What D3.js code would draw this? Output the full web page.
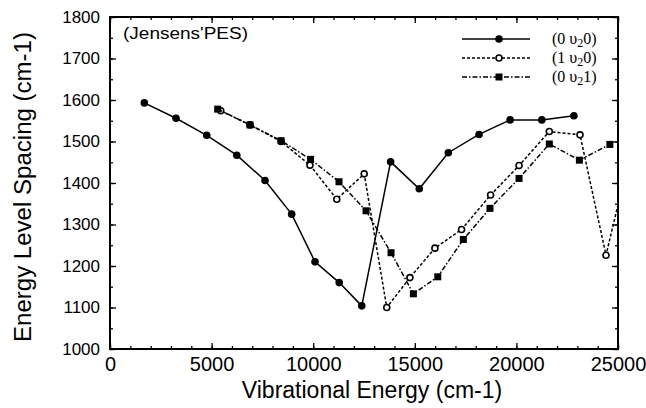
<!DOCTYPE html>
<html lang="en">
<head>
    <meta charset="UTF-8">
    <title>Energy level spacing</title>
    <script src="https://d3js.org/d3.v7.min.js"></script>
    <style>
        body { margin: 0; background: #fff; }
    </style>
</head>
<body>
<script>
    // (0 v2 0) - filled circles, solid line
    var energy0 = [1690, 3250, 4760, 6240, 7630, 8940, 10090, 11280, 12390, 13810, 15220, 16650, 18160, 19690, 21250, 22830];
    var spacing0 = [1593, 1556, 1515, 1467, 1406, 1325, 1210, 1160, 1104, 1451, 1386, 1473, 1517, 1552, 1552, 1562];

    // (1 v2 0) - open circles, dotted line (last point runs off the right edge)
    var energy1 = [5450, 6890, 8420, 9840, 11160, 12510, 13620, 14760, 15990, 17300, 18730, 20130, 21620, 23130, 24410, 25400];
    var spacing1 = [1574, 1540, 1500, 1443, 1361, 1422, 1100, 1172, 1243, 1288, 1371, 1442, 1524, 1516, 1226, 1430];

    // (0 v2 1) - filled squares, dash-dot line
    var energy2 = [5300, 6890, 8420, 9870, 11270, 12600, 13830, 14930, 16130, 17390, 18700, 20130, 21620, 23100, 24600];
    var spacing2 = [1578, 1540, 1502, 1457, 1403, 1333, 1232, 1133, 1174, 1264, 1339, 1411, 1494, 1455, 1493];

    var xTicks = [0, 5000, 10000, 15000, 20000, 25000];
    var yTicks = [1000, 1100, 1200, 1300, 1400, 1500, 1600, 1700, 1800];
    var legendLabels = ["(0 ", "(1 ", "(0 "];
    var legendEnds = ["0)", "0)", "1)"];

    var margin = {top: 17, right: 28, bottom: 59, left: 110},
        width = 646 - margin.left - margin.right,
        height = 408 - margin.top - margin.bottom;

    var sansFont = "'Liberation Sans', Arial, Helvetica, sans-serif";
    var serifFont = "'Liberation Serif', 'Times New Roman', serif";

    var xScale = d3.scaleLinear().domain([0, 25000]).range([0, width]);
    var yScale = d3.scaleLinear().domain([1000, 1800]).range([height, 0]);

    var xMinor = d3.range(0, 25001, 1000);
    var yMinor = d3.range(1000, 1801, 50);

    var svg = d3.select("body").append("svg")
        .attr("width", 646)
        .attr("height", 408)
        .append("g")
        .attr("transform", "translate(" + margin.left + "," + margin.top + ")");

    svg.append("defs").append("clipPath").attr("id", "plotclip")
        .append("rect").attr("width", width).attr("height", height);

    // minor ticks on all four sides
    svg.append("g").attr("transform", "translate(0," + height + ")")
        .call(d3.axisBottom(xScale).tickValues(xMinor).tickSize(-3).tickFormat(""));
    svg.append("g")
        .call(d3.axisTop(xScale).tickValues(xMinor).tickSize(-3).tickFormat(""));
    svg.append("g")
        .call(d3.axisLeft(yScale).tickValues(yMinor).tickSize(-3).tickFormat(""));
    svg.append("g").attr("transform", "translate(" + width + ",0)")
        .call(d3.axisRight(yScale).tickValues(yMinor).tickSize(-3).tickFormat(""));

    // major ticks + labels
    var xAxis = svg.append("g").attr("transform", "translate(0," + height + ")")
        .call(d3.axisBottom(xScale).tickValues(xTicks).tickSize(-6).tickPadding(8).tickFormat(d3.format("d")));
    xAxis.selectAll("text").attr("font-size", 20).attr("font-family", sansFont).attr("fill", "#000");

    var yAxis = svg.append("g")
        .call(d3.axisLeft(yScale).tickValues(yTicks).tickSize(-6).tickPadding(10).tickFormat(d3.format("d")));
    yAxis.selectAll("text").attr("font-size", 17).attr("font-family", sansFont).attr("fill", "#000");

    svg.append("g")
        .call(d3.axisTop(xScale).tickValues(xTicks).tickSize(-6).tickFormat(""));
    svg.append("g").attr("transform", "translate(" + width + ",0)")
        .call(d3.axisRight(yScale).tickValues(yTicks).tickSize(-6).tickFormat(""));

    svg.selectAll(".domain").remove();
    svg.selectAll(".tick line").attr("stroke", "#000").attr("stroke-width", 1.3);

    // frame
    svg.append("rect")
        .attr("width", width).attr("height", height)
        .attr("fill", "none").attr("stroke", "#000").attr("stroke-width", 2);

    // axis titles
    svg.append("text")
        .attr("x", width / 2 + 8)
        .attr("y", height + 49)
        .attr("text-anchor", "middle")
        .attr("font-family", sansFont)
        .attr("font-size", 23)
        .text("Vibrational Energy (cm-1)");

    svg.append("text")
        .attr("transform", "translate(" + (31 - margin.left) + "," + (187 - margin.top) + ") rotate(-90)")
        .attr("text-anchor", "middle")
        .attr("font-family", sansFont)
        .attr("font-size", 23)
        .attr("textLength", 310)
        .attr("lengthAdjust", "spacingAndGlyphs")
        .text("Energy Level Spacing (cm-1)");

    svg.append("text")
        .attr("x", 13)
        .attr("y", 22)
        .attr("font-family", sansFont)
        .attr("font-size", 16)
        .attr("textLength", 125)
        .attr("lengthAdjust", "spacingAndGlyphs")
        .text("(Jensens'PES)");

    var series = [
        {x: energy0, y: spacing0, dash: null, marker: "dot"},
        {x: energy1, y: spacing1, dash: "3,2", marker: "open"},
        {x: energy2, y: spacing2, dash: "5,2,1.5,2", marker: "square"}
    ];

    var line = d3.line()
        .x(function(d) { return xScale(d[0]); })
        .y(function(d) { return yScale(d[1]); });

    var plot = svg.append("g").attr("clip-path", "url(#plotclip)");

    function drawMarker(sel, kind) {
        if (kind === "square") {
            sel.append("rect")
                .attr("x", -3.5).attr("y", -3.5).attr("width", 7).attr("height", 7)
                .attr("fill", "#000");
        } else if (kind === "open") {
            sel.append("circle").attr("r", 3)
                .attr("fill", "#fff").attr("stroke", "#000").attr("stroke-width", 1.6);
        } else {
            sel.append("circle").attr("r", 3.8).attr("fill", "#000");
        }
    }

    // open circles first, then squares, then the solid series on top
    [series[1], series[2], series[0]].forEach(function(s) {
        var pts = s.x.map(function(v, i) { return [v, s.y[i]]; });
        plot.append("path")
            .datum(pts)
            .attr("fill", "none")
            .attr("stroke", "#000")
            .attr("stroke-width", 1.5)
            .attr("stroke-dasharray", s.dash)
            .attr("d", line);
        plot.selectAll(null)
            .data(pts)
            .enter().append("g")
            .attr("transform", function(d) { return "translate(" + xScale(d[0]) + "," + yScale(d[1]) + ")"; })
            .call(drawMarker, s.marker);
    });

    // legend
    var legendY = [22, 41, 60];
    series.forEach(function(s, i) {
        var lg = svg.append("g").attr("transform", "translate(0," + legendY[i] + ")");
        lg.append("line")
            .attr("x1", 352).attr("x2", 420)
            .attr("stroke", "#000").attr("stroke-width", 1.5)
            .attr("stroke-dasharray", s.dash);
        lg.append("g").attr("transform", "translate(389,0)").call(drawMarker, s.marker);
        var t = lg.append("text")
            .attr("x", 442).attr("y", 5)
            .attr("font-family", serifFont)
            .attr("font-size", 16);
        t.append("tspan").text(legendLabels[i] + "\u03C5");
        t.append("tspan").attr("dy", 3).attr("font-size", 12).text("2");
        t.append("tspan").attr("dy", -3).text(legendEnds[i]);
    });
</script>
</body>
</html>
